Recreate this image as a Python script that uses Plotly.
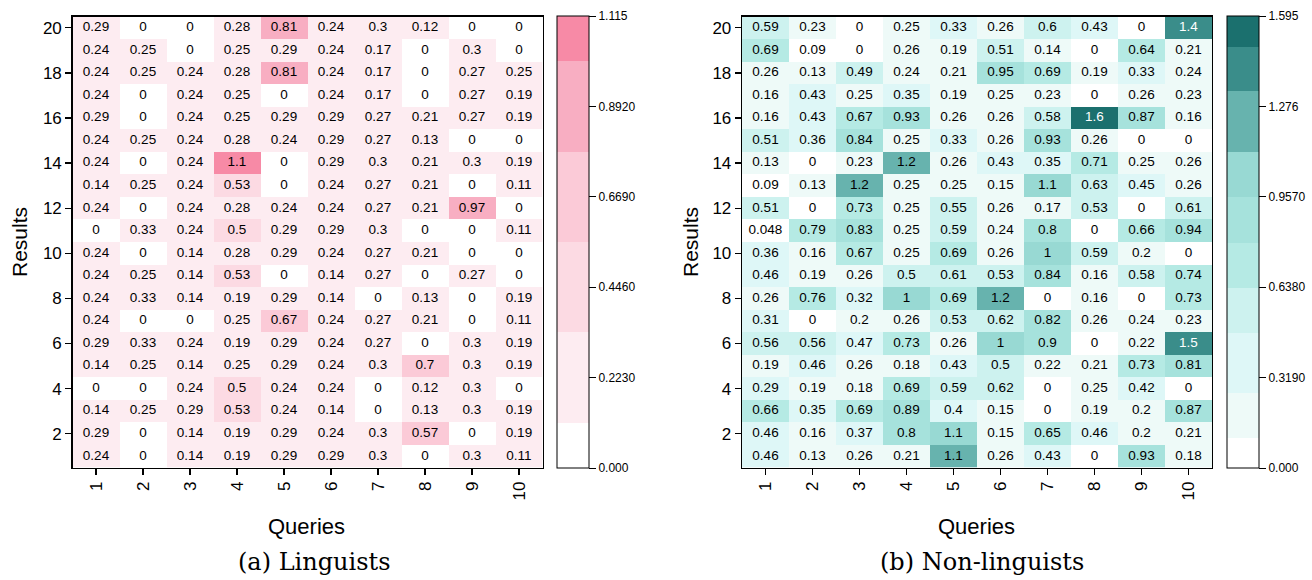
import plotly.graph_objects as go

W, H = 1312, 580
OFF = 0  # body margin removed via post_script

queries = list(range(1, 11))
results_top_down = list(range(20, 0, -1))

# rows listed from Result 20 (top) down to Result 1 (bottom)
linguists = [
    [0.29, 0, 0, 0.28, 0.81, 0.24, 0.3, 0.12, 0, 0],
    [0.24, 0.25, 0, 0.25, 0.29, 0.24, 0.17, 0, 0.3, 0],
    [0.24, 0.25, 0.24, 0.28, 0.81, 0.24, 0.17, 0, 0.27, 0.25],
    [0.24, 0, 0.24, 0.25, 0, 0.24, 0.17, 0, 0.27, 0.19],
    [0.29, 0, 0.24, 0.25, 0.29, 0.29, 0.27, 0.21, 0.27, 0.19],
    [0.24, 0.25, 0.24, 0.28, 0.24, 0.29, 0.27, 0.13, 0, 0],
    [0.24, 0, 0.24, 1.1, 0, 0.29, 0.3, 0.21, 0.3, 0.19],
    [0.14, 0.25, 0.24, 0.53, 0, 0.24, 0.27, 0.21, 0, 0.112],
    [0.24, 0, 0.24, 0.28, 0.24, 0.24, 0.27, 0.21, 0.97, 0],
    [0, 0.33, 0.24, 0.5, 0.29, 0.29, 0.3, 0, 0, 0.112],
    [0.24, 0, 0.14, 0.28, 0.29, 0.24, 0.27, 0.21, 0, 0],
    [0.24, 0.25, 0.14, 0.53, 0, 0.14, 0.27, 0, 0.27, 0],
    [0.24, 0.33, 0.14, 0.19, 0.29, 0.14, 0, 0.13, 0, 0.19],
    [0.24, 0, 0, 0.25, 0.67, 0.24, 0.27, 0.21, 0, 0.112],
    [0.29, 0.33, 0.24, 0.19, 0.29, 0.24, 0.27, 0, 0.3, 0.19],
    [0.14, 0.25, 0.14, 0.25, 0.29, 0.24, 0.3, 0.7, 0.3, 0.19],
    [0, 0, 0.24, 0.5, 0.24, 0.24, 0, 0.12, 0.3, 0],
    [0.14, 0.25, 0.29, 0.53, 0.24, 0.14, 0, 0.13, 0.3, 0.19],
    [0.29, 0, 0.14, 0.19, 0.29, 0.24, 0.3, 0.57, 0, 0.19],
    [0.24, 0, 0.14, 0.19, 0.29, 0.29, 0.3, 0, 0.3, 0.112],
]

non_linguists = [
    [0.59, 0.23, 0, 0.25, 0.33, 0.26, 0.6, 0.43, 0, 1.4],
    [0.69, 0.09, 0, 0.26, 0.19, 0.51, 0.14, 0, 0.64, 0.21],
    [0.26, 0.13, 0.49, 0.24, 0.21, 0.95, 0.69, 0.19, 0.33, 0.24],
    [0.16, 0.43, 0.25, 0.35, 0.19, 0.25, 0.23, 0, 0.26, 0.23],
    [0.16, 0.43, 0.67, 0.93, 0.26, 0.26, 0.58, 1.6, 0.87, 0.16],
    [0.51, 0.36, 0.84, 0.25, 0.33, 0.26, 0.93, 0.26, 0, 0],
    [0.13, 0, 0.23, 1.2, 0.26, 0.43, 0.35, 0.71, 0.25, 0.26],
    [0.09, 0.13, 1.2, 0.25, 0.25, 0.15, 1.1, 0.63, 0.45, 0.26],
    [0.51, 0, 0.73, 0.25, 0.55, 0.26, 0.17, 0.53, 0, 0.61],
    [0.048, 0.79, 0.83, 0.25, 0.59, 0.24, 0.8, 0, 0.66, 0.94],
    [0.36, 0.16, 0.67, 0.25, 0.69, 0.26, 1, 0.59, 0.2, 0],
    [0.46, 0.19, 0.26, 0.5, 0.61, 0.53, 0.84, 0.16, 0.58, 0.74],
    [0.26, 0.76, 0.32, 1, 0.69, 1.2, 0, 0.16, 0, 0.73],
    [0.31, 0, 0.2, 0.26, 0.53, 0.62, 0.82, 0.26, 0.24, 0.23],
    [0.56, 0.56, 0.47, 0.73, 0.26, 1, 0.9, 0, 0.22, 1.48],
    [0.19, 0.46, 0.26, 0.18, 0.43, 0.5, 0.22, 0.21, 0.73, 0.81],
    [0.29, 0.19, 0.18, 0.69, 0.59, 0.62, 0, 0.25, 0.42, 0],
    [0.66, 0.35, 0.69, 0.89, 0.4, 0.15, 0, 0.19, 0.2, 0.87],
    [0.46, 0.16, 0.37, 0.8, 1.1, 0.15, 0.65, 0.46, 0.2, 0.21],
    [0.46, 0.13, 0.26, 0.21, 1.12, 0.26, 0.43, 0, 0.93, 0.18],
]

ling_max = 1.115
nonling_max = 1.595
ling_ticks = [0, 0.223, 0.446, 0.669, 0.892, 1.115]
ling_ticktext = ["0.000", "0.2230", "0.4460", "0.6690", "0.8920", "1.115"]
nonling_ticks = [0, 0.319, 0.638, 0.957, 1.276, 1.595]
nonling_ticktext = ["0.000", "0.3190", "0.6380", "0.9570", "1.276", "1.595"]

# discrete bands (boundaries as fraction of range, colours)
ling_bounds = [0, 0.1, 0.3, 0.5, 0.7, 0.9, 1.0]
ling_colors = ["#ffffff", "#fdecf1", "#fcdae3", "#fbcad7", "#f8aec2", "#f78aa6"]
nonling_bounds = [0, 0.0667, 0.1667, 0.299, 0.399, 0.498, 0.6, 0.7, 0.833, 0.932, 1.0]
nonling_colors = ["#ffffff", "#eefaf8", "#def7f7", "#cdf2ef", "#b5eae4",
                  "#a6e2dc", "#98d9d3", "#67b3ae", "#3a8d8a", "#1b706e"]

SANS = "Liberation Sans, Arial, Helvetica, sans-serif"
SERIF = "DejaVu Serif, serif"


def px_x(x):
    return (x - OFF) / W


def px_y(y):
    return 1 - (y - OFF) / H


def discrete_scale(bounds, colors):
    cs = []
    for i, c in enumerate(colors):
        cs.append([bounds[i], c])
        cs.append([bounds[i + 1], c])
    return cs


def fmt(v):
    return "{:.2g}".format(v)


fig = go.Figure()

panels = [
    dict(z=linguists, zmax=ling_max, cs=discrete_scale(ling_bounds, ling_colors),
         ticks=ling_ticks, ticktext=ling_ticktext, xa="x", ya="y",
         cbx=px_x(557), white_above=10),
    dict(z=non_linguists, zmax=nonling_max, cs=discrete_scale(nonling_bounds, nonling_colors),
         ticks=nonling_ticks, ticktext=nonling_ticktext, xa="x2", ya="y2",
         cbx=px_x(1227), white_above=1.3),
]

for p in panels:
    fig.add_trace(go.Heatmap(
        z=p["z"], x=queries, y=results_top_down,
        zmin=0, zmax=p["zmax"], colorscale=p["cs"],
        xaxis=p["xa"], yaxis=p["ya"], hoverinfo="skip",
        colorbar=dict(
            x=p["cbx"], xanchor="left", xpad=0, ypad=0,
            y=px_y(242), yanchor="middle", len=452 / H, lenmode="fraction",
            thickness=32, thicknessmode="pixels",
            outlinecolor="black", outlinewidth=1,
            tickvals=p["ticks"], ticktext=p["ticktext"],
            ticks="outside", ticklen=7, tickwidth=1, tickcolor="black",
            tickfont=dict(family=SANS, size=12, color="black"),
        ),
    ))
    xs, ys, ts, cols = [], [], [], []
    for r, row in zip(results_top_down, p["z"]):
        for q, v in zip(queries, row):
            xs.append(q)
            ys.append(r)
            ts.append(fmt(v))
            cols.append("white" if v > p["white_above"] else "black")
    fig.add_trace(go.Scatter(
        x=xs, y=ys, text=ts, mode="text", xaxis=p["xa"], yaxis=p["ya"],
        textfont=dict(family=SANS, size=13.5, color=cols),
        hoverinfo="skip", showlegend=False,
    ))

axis_common = dict(showline=True, mirror=True, linecolor="black", linewidth=1.3,
                   ticks="outside", ticklen=6, tickwidth=1.3, tickcolor="black",
                   showgrid=False, zeroline=False,
                   tickfont=dict(family=SANS, size=17, color="black"))

ytop = px_y(16.5)
ybot = px_y(467.5)

fig.update_layout(
    width=W, height=H,
    margin=dict(l=0, r=0, t=0, b=0),
    paper_bgcolor="white", plot_bgcolor="white",
    showlegend=False,
    hovermode=False,
    font=dict(family=SANS, color="black"),
    xaxis=dict(domain=[px_x(72.5), px_x(542.5)], range=[0.5, 10.5], anchor="y",
               tickvals=queries, tickangle=-90, **axis_common),
    yaxis=dict(domain=[ybot, ytop], range=[0.5, 20.5], anchor="x",
               tickvals=list(range(2, 21, 2)), **axis_common),
    xaxis2=dict(domain=[px_x(742), px_x(1212)], range=[0.5, 10.5], anchor="y2",
                tickvals=queries, tickangle=-90, **axis_common),
    yaxis2=dict(domain=[ybot, ytop], range=[0.5, 20.5], anchor="x2",
                tickvals=list(range(2, 21, 2)), **axis_common),
)

annots = [
    dict(text="Queries", x=306, y=526, size=22, family=SANS, angle=0),
    dict(text="Queries", x=976, y=526, size=22, family=SANS, angle=0),
    dict(text="Results", x=19, y=242, size=21, family=SANS, angle=-90),
    dict(text="Results", x=690, y=242, size=21, family=SANS, angle=-90),
    dict(text="(a) Linguists", x=314, y=562, size=24, family=SERIF, angle=0),
    dict(text="(b) Non-linguists", x=982, y=562, size=24, family=SERIF, angle=0),
]
for a in annots:
    fig.add_annotation(text=a["text"], x=px_x(a["x"]), y=px_y(a["y"]),
                       xref="paper", yref="paper",
                       xanchor="center", yanchor="middle", showarrow=False,
                       textangle=a["angle"],
                       font=dict(family=a["family"], size=a["size"], color="black"))

fig.write_html("out.html",
               config={"displayModeBar": False, "staticPlot": True},
               post_script="document.body.style.margin='0';"
                           "document.body.style.overflow='hidden';")
